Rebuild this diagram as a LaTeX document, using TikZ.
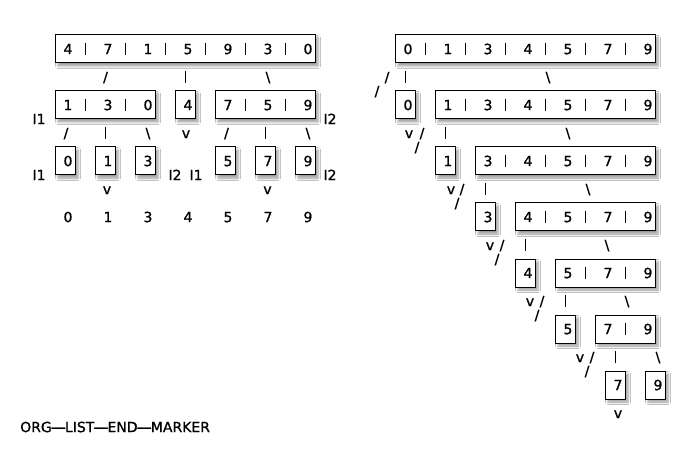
\documentclass[tikz,border=0pt]{standalone}
\usepackage{fontspec}
\setmainfont{DejaVu Sans}[BoldFont=DejaVu Sans, BoldFeatures={FakeBold=1.1}]
\usetikzlibrary{shadows.blur}
\newcommand\hy{\kern-2.5pt\scalebox{3.6}[1]{-}\kern-2.5pt}
% box from column #2 to #3, top row #4
\newcommand\bx[4]{\node[box, minimum width={((#3)-(#2))*10pt}, minimum height=28pt] (#1) at ({5*((#2)+(#3))+5},{49+14*(#4)}) {};}
% text centred at x=#2 (px), row #3
\newcommand\ch[4]{\node[lbl] (#1) at ({#2},{40.1+14*(#3)}) {#4};}
% text in column #2
\newcommand\cc[4]{\ch{#1}{10*(#2)+8}{#3}{#4}}
% vertical bar in column #1, row #2
\newcommand\sep[2]{\draw[sepl] ({10*(#1)+5},{29+14*(#2)}) -- ({10*(#1)+5},{41+14*(#2)});}
\begin{document}
\begin{tikzpicture}[x=1pt,y=-1pt,
  box/.style={draw, line width=1pt, fill=white, inner sep=0pt,
    blur shadow={shadow xshift=3pt, shadow yshift=-3pt, shadow blur radius=2.5pt, shadow opacity=40}},
  lbl/.style={anchor=base, inner sep=0pt, font=\fontsize{14}{16}\selectfont\bfseries},
  sepl/.style={line width=0.9pt}]
\useasboundingbox[fill=white] (0,0) rectangle (690,462);

% ================= LEFT =================
\bx{A}{5}{31}{0}
\foreach \d [count=\i from 0] in {4,7,1,5,9,3,0} {\cc{A\i}{6+4*\i}{1}{\d}}
\foreach \i in {0,...,5} {\sep{8+4*\i}{1}}
% row 3
\ch{l3a}{105.5}{3}{/}
\sep{18}{3}
\ch{l3c}{268}{3}{\textbackslash}
% row 4 boxes
\bx{B}{5}{15}{4}
\cc{B0}{6}{5}{1}\cc{B1}{10}{5}{3}\cc{B2}{14}{5}{0}
\sep{8}{5}\sep{12}{5}
\bx{C}{17}{19}{4}
\cc{C0}{18}{5}{4}
\bx{D}{21}{31}{4}
\cc{D0}{22}{5}{7}\cc{D1}{26}{5}{5}\cc{D2}{30}{5}{9}
\sep{24}{5}\sep{28}{5}
\ch{i6a}{39}{6}{I1}
\ch{i6b}{330}{6}{I2}
% row 7
\ch{l7a}{66}{7}{/}
\sep{10}{7}
\ch{l7c}{148}{7}{\textbackslash}
\ch{l7v}{186}{7}{v}
\ch{l7d}{226.5}{7}{/}
\sep{26}{7}
\ch{l7f}{308}{7}{\textbackslash}
% row 8 boxes
\bx{E0}{5}{7}{8}\cc{e0}{6}{9}{0}
\bx{E1}{9}{11}{8}\cc{e1}{10}{9}{1}
\bx{E2}{13}{15}{8}\cc{e2}{14}{9}{3}
\bx{E3}{21}{23}{8}\cc{e3}{22}{9}{5}
\bx{E4}{25}{27}{8}\cc{e4}{26}{9}{7}
\bx{E5}{29}{31}{8}\cc{e5}{30}{9}{9}
\ch{i10a}{39}{10}{I1}
\ch{i10b}{175}{10}{I2}
\ch{i10c}{196}{10}{I1}
\ch{i10d}{330}{10}{I2}
% row 11
\ch{l11a}{107}{11}{v}
\ch{l11b}{267.5}{11}{v}
% row 13
\foreach \d [count=\i from 0] in {0,1,3,4,5,7,9} {\cc{R\i}{6+4*\i}{13}{\d}}

% ================= RIGHT =================
\bx{T}{39}{65}{0}
\foreach \d [count=\i from 0] in {0,1,3,4,5,7,9} {\cc{T\i}{40+4*\i}{1}{\d}}
\foreach \i in {0,...,5} {\sep{42+4*\i}{1}}
\ch{r3a}{387}{3}{/}
\sep{40}{3}
\ch{r3c}{548}{3}{\textbackslash}
\ch{r4a}{377}{4}{/}
% level 1
\bx{S1}{39}{41}{4}\cc{s1}{40}{5}{0}
\bx{G1}{43}{65}{4}
\foreach \d [count=\i from 0] in {1,3,4,5,7,9} {\cc{g1\i}{44+4*\i}{5}{\d}}
\foreach \i in {0,...,4} {\sep{46+4*\i}{5}}
\ch{r7v}{409}{7}{v}\ch{r7a}{422}{7}{/}\sep{44}{7}\ch{r7c}{568}{7}{\textbackslash}
\ch{r8a}{417}{8}{/}
% level 2
\bx{S2}{43}{45}{8}\cc{s2}{44}{9}{1}
\bx{G2}{47}{65}{8}
\foreach \d [count=\i from 0] in {3,4,5,7,9} {\cc{g2\i}{48+4*\i}{9}{\d}}
\foreach \i in {0,...,3} {\sep{50+4*\i}{9}}
\ch{r11v}{451}{11}{v}\ch{r11a}{462}{11}{/}\sep{48}{11}\ch{r11c}{588}{11}{\textbackslash}
\ch{r12a}{457}{12}{/}
% level 3
\bx{S3}{47}{49}{12}\cc{s3}{48}{13}{3}
\bx{G3}{51}{65}{12}
\foreach \d [count=\i from 0] in {4,5,7,9} {\cc{g3\i}{52+4*\i}{13}{\d}}
\foreach \i in {0,...,2} {\sep{54+4*\i}{13}}
\ch{r15v}{490}{15}{v}\ch{r15a}{502}{15}{/}\sep{52}{15}\ch{r15c}{607}{15}{\textbackslash}
\ch{r16a}{497}{16}{/}
% level 4
\bx{S4}{51}{53}{16}\cc{s4}{52}{17}{4}
\bx{G4}{55}{65}{16}
\foreach \d [count=\i from 0] in {5,7,9} {\cc{g4\i}{56+4*\i}{17}{\d}}
\foreach \i in {0,1} {\sep{58+4*\i}{17}}
\ch{r19v}{530}{19}{v}\ch{r19a}{542}{19}{/}\sep{56}{19}\ch{r19c}{627}{19}{\textbackslash}
\ch{r20a}{537}{20}{/}
% level 5
\bx{S5}{55}{57}{20}\cc{s5}{56}{21}{5}
\bx{G5}{59}{65}{20}
\cc{g50}{60}{21}{7}\cc{g51}{64}{21}{9}
\sep{62}{21}
\ch{r23v}{580}{23}{v}\ch{r23a}{592}{23}{/}\sep{61}{23}\ch{r23c}{658}{23}{\textbackslash}
\ch{r24a}{587}{24}{/}
% level 6
\bx{S6}{60}{62}{24}\cc{s6}{61}{25}{7}
\bx{G6}{64}{66}{24}\cc{g6}{65}{25}{9}
\ch{r27v}{618}{27}{v}

% ================= marker =================
\node[lbl, anchor=base west] (marker) at (20,{40.1+14*28}) {ORG\hy LIST\hy END\hy MARKER};
\end{tikzpicture}
\end{document}
